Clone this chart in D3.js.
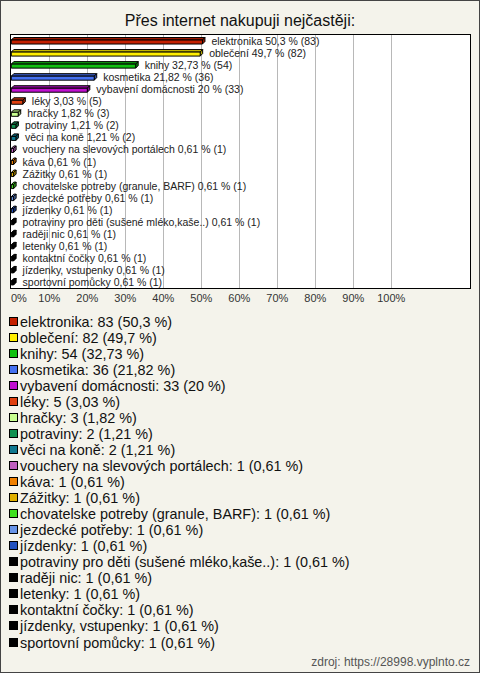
<!DOCTYPE html>
<html><head><meta charset="utf-8">
<script src="https://cdn.jsdelivr.net/npm/d3@7"></script>
<style>
html,body{margin:0;padding:0;background:#f4f3eb;}
svg{display:block;font-family:"Liberation Sans",Arial,sans-serif;}
</style></head>
<body>
<svg id="c" width="480" height="673"></svg>
<script>
const title = "Přes internet nakupuji nejčastěji:";
const categories = ["elektronika","oblečení","knihy","kosmetika","vybavení domácnosti","léky","hračky","potraviny","věci na koně","vouchery na slevových portálech","káva","Zážitky","chovatelske potreby (granule, BARF)","jezdecké potřeby","jízdenky","potraviny pro děti (sušené mléko,kaše..)","raději nic","letenky","kontaktní čočky","jízdenky, vstupenky","sportovní pomůcky"];
const counts = [83,82,54,36,33,5,3,2,2,1,1,1,1,1,1,1,1,1,1,1,1];
const percents = [50.3,49.7,32.73,21.82,20,3.03,1.82,1.21,1.21,0.61,0.61,0.61,0.61,0.61,0.61,0.61,0.61,0.61,0.61,0.61,0.61];
const colors = ["#c42000","#ffee00","#10c010","#4470f0","#c010d0","#e04010","#c8ff90","#109050","#107890","#c060c0","#f08000","#e0b000","#40e020","#6894e8","#2050c0","#000","#000","#000","#000","#000","#000"];
const tickValues = [0,10,20,30,40,50,60,70,80,90,100];
const sourceText = "zdroj: https://28998.vyplnto.cz";

const svg = d3.select("#c");
const fmt = v => String(v).replace(".", ",");

// outer border
svg.append("rect").attr("x",0.5).attr("y",0.5).attr("width",479).attr("height",672)
  .attr("fill","#f4f3eb").attr("stroke","#444");

svg.append("text").attr("x",240).attr("y",26).attr("text-anchor","middle")
  .attr("font-size",16).attr("fill","#111").text(title);

const plot = {l:10.5, r:470.5, t:34.5, b:288.5};
svg.append("rect").attr("x",plot.l).attr("y",plot.t).attr("width",plot.r-plot.l).attr("height",plot.b-plot.t)
  .attr("fill","#fff").attr("stroke","#000");

const x = d3.scaleLinear().domain([0,100]).range([11.3,391.3]);
const y = d3.scaleBand().domain(categories).range([35,288]);

// grid
svg.append("g").selectAll("line").data(tickValues.slice(1)).join("line")
  .attr("x1",d=>Math.round(x(d))+0.5).attr("x2",d=>Math.round(x(d))+0.5)
  .attr("y1",plot.t+0.5).attr("y2",plot.b-0.5).attr("stroke","#b8b8b8");

// tick labels
svg.append("g").selectAll("text").data(tickValues).join("text")
  .attr("x",d=> d===0 ? 11 : x(d)).attr("y",302)
  .attr("text-anchor",d=> d===0 ? "start" : "middle")
  .attr("font-size",11).attr("fill","#333").text(d=>d+"%");

// 3D bars
const d3d = 2.5;
const bars = svg.append("g");
categories.forEach((c,i)=>{
  const cy = y(c) + y.bandwidth()/2;
  const x0 = x(0), x1 = x(percents[i]);
  const top = cy - 1, bot = cy + 3;
  const col = d3.color(colors[i]);
  const g = bars.append("g").attr("stroke","#000").attr("stroke-width",1).attr("stroke-linejoin","round");
  g.append("polygon").attr("points",[[x0,top],[x0+d3d,top-d3d],[x1+d3d,top-d3d],[x1,top]].join(" "))
    .attr("fill",col.darker(0.6));
  g.append("polygon").attr("points",[[x1,top],[x1+d3d,top-d3d],[x1+d3d,bot-d3d],[x1,bot]].join(" "))
    .attr("fill",col.darker(1));
  g.append("rect").attr("x",x0).attr("y",top).attr("width",x1-x0).attr("height",bot-top).attr("fill",colors[i]);
  svg.append("text").attr("x",x1+9).attr("y",cy+4).attr("font-size",10.5).attr("fill","#222")
    .text(c+" "+fmt(percents[i])+" % ("+counts[i]+")");
});

// legend
const ly = d3.scaleLinear().domain([0,categories.length-1]).range([322,642.5]);
const leg = svg.append("g");
categories.forEach((c,i)=>{
  const yy = ly(i);
  leg.append("rect").attr("x",9.5).attr("y",Math.round(yy-4)-0.5).attr("width",8).attr("height",8)
    .attr("fill",colors[i]).attr("stroke","#000");
  leg.append("text").attr("x",20).attr("y",yy+5).attr("font-size",14.4).attr("fill","#111")
    .text(c+": "+counts[i]+" ("+fmt(percents[i])+" %)");
});

svg.append("text").attr("x",470).attr("y",666).attr("text-anchor","end")
  .attr("font-size",12).attr("fill","#555").text(sourceText);
</script>
</body></html>
